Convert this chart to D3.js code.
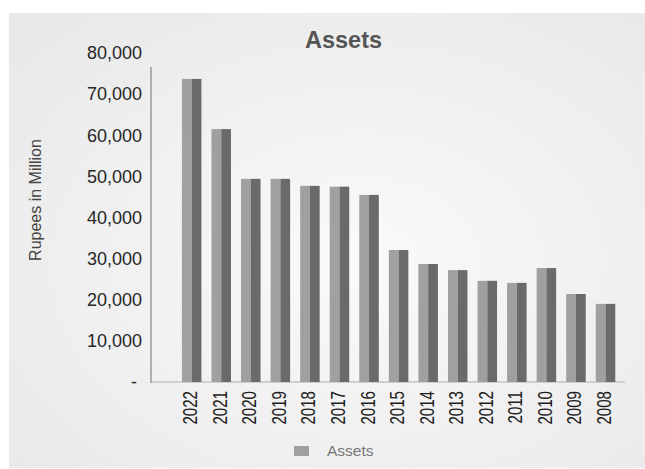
<!DOCTYPE html>
<html>
<head>
<meta charset="utf-8">
<script src="https://cdn.jsdelivr.net/npm/d3@7"></script>
<style>
  html, body { margin: 0; padding: 0; background: #ffffff; }
  svg { display: block; }
</style>
</head>
<body>
<svg id="chart" width="645" height="469"></svg>
<script>
// Total assets by year (Rupees in Million)
const years = ["2022","2021","2020","2019","2018","2017","2016","2015","2014","2013","2012","2011","2010","2009","2008"];
const assets = [73700, 61500, 49400, 49400, 47700, 47500, 45500, 32100, 28700, 27200, 24600, 24100, 27700, 21400, 19000];
const yTicks = [0, 10000, 20000, 30000, 40000, 50000, 60000, 70000, 80000];
const seriesName = "Assets";
const yTitle = "Rupees in Million";

const svg = d3.select("#chart");

// Panel background with a soft radial shading
const defs = svg.append("defs");
const grad = defs.append("radialGradient")
  .attr("id", "bg").attr("cx", "55%").attr("cy", "55%").attr("r", "70%");
grad.append("stop").attr("offset", "0%").attr("stop-color", "#fafafa");
grad.append("stop").attr("offset", "100%").attr("stop-color", "#e9e9e9");

svg.append("rect")
  .attr("x", 9).attr("y", 13).attr("width", 636).attr("height", 455)
  .attr("fill", "url(#bg)");

const x = d3.scaleBand()
  .domain(years)
  .range([176.9, 620.3])
  .paddingInner(0.34)
  .paddingOuter(0.17);

const y = d3.scaleLinear().domain([0, 80000]).range([382, 53]);

// Axis frame
svg.append("line")
  .attr("x1", 151).attr("x2", 625).attr("y1", y(0)).attr("y2", y(0))
  .attr("stroke", "#cfcfcf").attr("stroke-width", 2);
svg.append("line")
  .attr("x1", 151).attr("x2", 151).attr("y1", 67).attr("y2", y(0) + 1)
  .attr("stroke", "#9a9a9a").attr("stroke-width", 1.5);

// Y axis labels
const yAxis = d3.axisLeft(y)
  .tickValues(yTicks)
  .tickSize(0)
  .tickPadding(0)
  .tickFormat(d => d === 0 ? "-" : d3.format(",")(d));
const gy = svg.append("g").attr("transform", "translate(142,0)").call(yAxis);
gy.select(".domain").remove();
gy.selectAll("text")
  .attr("font-family", "Liberation Sans, Arial, sans-serif")
  .attr("font-size", 18)
  .attr("fill", "#262626")
  .attr("dx", d => d === 0 ? -5 : 0);

// Bars: light left face, dark right face
const bars = svg.append("g").selectAll("g").data(years).join("g");
bars.append("rect")
  .attr("x", d => x(d))
  .attr("y", (d, i) => y(assets[i]))
  .attr("width", x.bandwidth() / 2)
  .attr("height", (d, i) => y(0) - y(assets[i]))
  .attr("fill", "#a0a0a0");
bars.append("rect")
  .attr("x", d => x(d) + x.bandwidth() / 2)
  .attr("y", (d, i) => y(assets[i]))
  .attr("width", x.bandwidth() / 2)
  .attr("height", (d, i) => y(0) - y(assets[i]))
  .attr("fill", "#6a6a6a");

// X axis labels (rotated, condensed)
svg.append("g").selectAll("text").data(years).join("text")
  .attr("transform", d => `translate(${x(d) + x.bandwidth() / 2 + 5.5},391) rotate(-90) scale(0.72,1)`)
  .attr("text-anchor", "end")
  .attr("font-family", "Liberation Sans, Arial, sans-serif")
  .attr("font-size", 21)
  .attr("fill", "#1e1e1e")
  .text(d => d);

// Title
svg.append("text")
  .attr("x", 343.5).attr("y", 48)
  .attr("text-anchor", "middle")
  .attr("font-family", "Liberation Sans, Arial, sans-serif")
  .attr("font-weight", "bold")
  .attr("font-size", 23.5)
  .attr("fill", "#555555")
  .text(seriesName);

// Y axis title
svg.append("text")
  .attr("transform", "translate(41,200) rotate(-90)")
  .attr("text-anchor", "middle")
  .attr("font-family", "Liberation Sans, Arial, sans-serif")
  .attr("font-size", 16)
  .attr("fill", "#444444")
  .text(yTitle);

// Legend
const legend = svg.append("g");
legend.append("rect")
  .attr("x", 294).attr("y", 446).attr("width", 15).attr("height", 10)
  .attr("fill", "#a0a0a0");
legend.append("text")
  .attr("x", 327).attr("y", 456)
  .attr("font-family", "Liberation Sans, Arial, sans-serif")
  .attr("font-size", 15.5)
  .attr("fill", "#777777")
  .text(seriesName);
</script>
</body>
</html>
